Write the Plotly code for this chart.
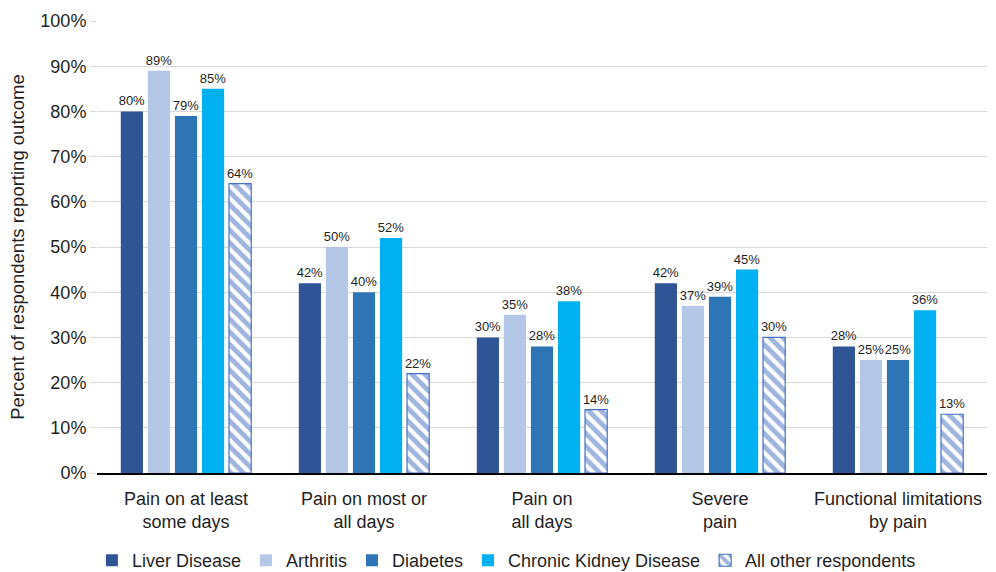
import plotly.graph_objects as go

categories = [
    "Pain on at least<br>some days",
    "Pain on most or<br>all days",
    "Pain on<br>all days",
    "Severe<br>pain",
    "Functional limitations<br>by pain",
]

liver_disease = [80, 42, 30, 42, 28]
arthritis = [89, 50, 35, 37, 25]
diabetes = [79, 40, 28, 39, 25]
chronic_kidney = [85, 52, 38, 45, 36]
all_other = [64, 22, 14, 30, 13]

series = [
    ("Liver Disease", liver_disease, "#2F5597"),
    ("Arthritis", arthritis, "#B4C7E7"),
    ("Diabetes", diabetes, "#2E75B6"),
    ("Chronic Kidney Disease", chronic_kidney, "#00B0F0"),
]

FONT = "Liberation Sans, Arial, sans-serif"
TEXT_COLOR = "#1f1f1f"

fig = go.Figure()

for name, values, color in series:
    fig.add_trace(go.Bar(
        name=name,
        x=categories,
        y=values,
        marker=dict(color=color, line=dict(color="white", width=0)),
        text=[f"{v}%" for v in values],
        textposition="outside",
        textfont=dict(size=13, color=TEXT_COLOR, family=FONT),
        constraintext="none",
        cliponaxis=False,
    ))

fig.add_trace(go.Bar(
    name="All other respondents",
    x=categories,
    y=all_other,
    marker=dict(
        color="white",
        line=dict(color="#4472C4", width=1.2),
        pattern=dict(shape="\\", fgcolor="#3F6CC0", bgcolor="white",
                     size=9, solidity=0.55),
    ),
    text=[f"{v}%" for v in all_other],
    textposition="outside",
    textfont=dict(size=13, color=TEXT_COLOR, family=FONT),
    constraintext="none",
    cliponaxis=False,
))

fig.update_layout(
    width=996,
    height=572,
    barmode="group",
    bargap=0.24,
    bargroupgap=0.18,
    paper_bgcolor="white",
    plot_bgcolor="white",
    margin=dict(l=97, r=9, t=21, b=99, autoexpand=False),
    font=dict(family=FONT, size=18, color=TEXT_COLOR),
    showlegend=True,
    legend=dict(
        orientation="h",
        x=0.46,
        xanchor="center",
        yref="container",
        y=0.02,
        yanchor="middle",
        font=dict(size=18, color=TEXT_COLOR, family=FONT),
        itemwidth=30,
        traceorder="normal",
    ),
    xaxis=dict(
        showgrid=False,
        showline=True,
        linecolor="black",
        linewidth=2,
        ticks="outside",
        ticklen=8,
        tickcolor="rgba(0,0,0,0)",
        tickfont=dict(size=18, color=TEXT_COLOR, family=FONT),
    ),
    yaxis=dict(
        range=[0, 100],
        dtick=10,
        ticksuffix="%",
        showgrid=True,
        gridcolor="#D9D9D9",
        gridwidth=1,
        zeroline=False,
        showline=False,
        ticks="outside",
        ticklen=6,
        tickcolor="#D9D9D9",
        tickfont=dict(size=18, color=TEXT_COLOR, family=FONT),
        title=dict(text="Percent of respondents reporting outcome",
                   font=dict(size=18.5, color=TEXT_COLOR, family=FONT),
                   standoff=10),
    ),
)

fig.write_html("out.html")
